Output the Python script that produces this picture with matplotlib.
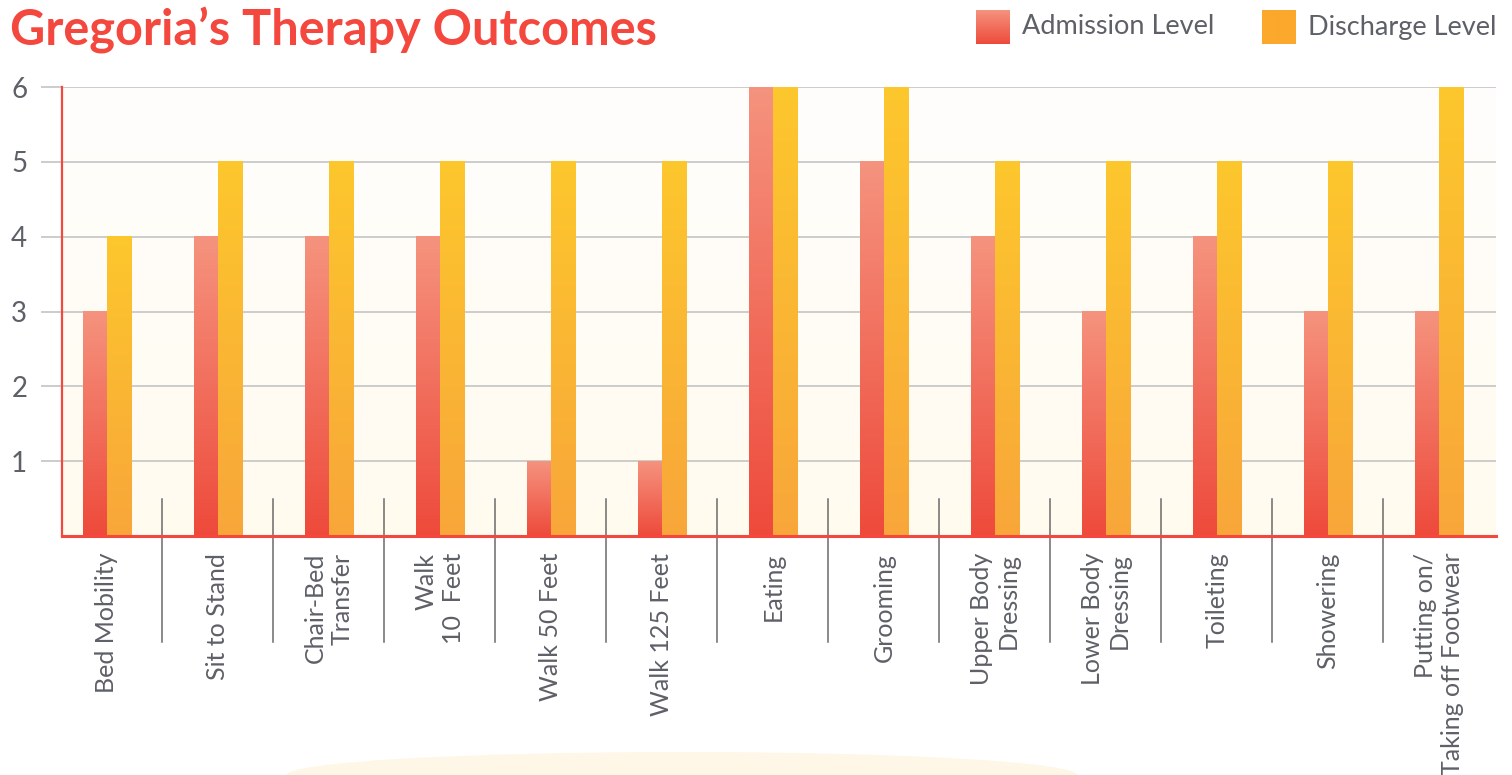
import numpy as np
import matplotlib
matplotlib.use('Agg')
import matplotlib.pyplot as plt
from matplotlib.colors import LinearSegmentedColormap
from matplotlib.patches import Ellipse

# ---- data ----
categories = ["Bed Mobility", "Sit to Stand", "Chair-Bed\nTransfer", "Walk\n10  Feet",
              "Walk 50 Feet", "Walk 125 Feet", "Eating", "Grooming",
              "Upper Body\nDressing", "Lower Body\nDressing", "Toileting", "Showering",
              "Putting on/\nTaking off Footwear"]
admission = [3, 4, 4, 4, 1, 1, 6, 5, 4, 3, 4, 3, 3]
discharge = [4, 5, 5, 5, 5, 5, 6, 6, 5, 5, 5, 5, 6]
yticks = [1, 2, 3, 4, 5, 6]
series_names = ["Admission Level", "Discharge Level"]
title = "Gregoria\u2019s Therapy Outcomes"

plt.rcParams['font.family'] = ['Lato', 'DejaVu Sans']

W, H = 1512, 775
GRAY = '#5E6068'
RED = '#F4483E'
fig = plt.figure(figsize=(W / 100, H / 100), dpi=100)
fig.patch.set_facecolor('white')
ax = fig.add_axes([62 / W, 1 - 536 / H, (1496 - 62) / W, (536 - 87) / H])

grad = np.linspace(0, 1, 256).reshape(-1, 1)

# background gradient
bg = LinearSegmentedColormap.from_list('bg', ['#FFFBEF', '#FFFEFD'])
ax.imshow(grad, extent=[0, 1, 0, 1], transform=ax.transAxes, cmap=bg,
          origin='lower', aspect='auto', zorder=0)

x = np.arange(len(categories))
w = 0.22
bars_a = ax.bar(x - w / 2, admission, w, color='none', zorder=3)
bars_d = ax.bar(x + w / 2, discharge, w, color='none', zorder=3)
cmap_a = LinearSegmentedColormap.from_list('a', ['#EE4A3B', '#F5937E'])
cmap_d = LinearSegmentedColormap.from_list('d', ['#F8A63A', '#FDC72D'])
for bars, cm in ((bars_a, cmap_a), (bars_d, cmap_d)):
    for r in bars:
        x0, y0 = r.get_x(), r.get_y()
        ax.imshow(grad, extent=[x0, x0 + r.get_width(), y0, y0 + r.get_height()],
                  origin='lower', cmap=cm, aspect='auto', zorder=3,
                  interpolation='bilinear')

# separators
for s in x[:-1] + 0.5:
    ax.plot([s, s], [0.5, -1.417], color='#6B6B6B', lw=1.1, clip_on=False, zorder=4)

ax.set_xlim(-0.405, 12.514)
ax.set_ylim(0, 6)
ax.set_yticks(yticks)
ax.yaxis.grid(True, color='#C4C4C4', lw=1.2)
ax.set_axisbelow(True)
ax.tick_params(axis='y', length=15, width=1.2, color='#C4C4C4', pad=10,
               labelsize=20, labelcolor=GRAY)
ax.set_xticks(x)
ax.set_xticklabels(categories, rotation=90, fontsize=18, color=GRAY,
                   multialignment='right')
ax.tick_params(axis='x', length=0, pad=12)

for sp in ('top', 'right'):
    ax.spines[sp].set_visible(False)
ax.spines['left'].set_color(RED)
ax.spines['left'].set_linewidth(1.6)
ax.spines['bottom'].set_color(RED)
ax.spines['bottom'].set_linewidth(2.2)
ax.spines['left'].set_zorder(5)
ax.spines['bottom'].set_zorder(5)

# title
fig.text(10 / W, 1 - 45 / H, title, fontsize=35, fontweight='bold', color='#F4473D',
         ha='left', va='baseline')

# legend (manual)
leg_items = [(976, cmap_a, series_names[0], 1022),
             (1262, LinearSegmentedColormap.from_list('ds', ['#FBA82C', '#FBA92C']), series_names[1], 1308)]
for sx, cm, name, tx in leg_items:
    lax = fig.add_axes([sx / W, 1 - 44 / H, 34 / W, 34 / H])
    lax.imshow(grad, origin='lower', cmap=cm, aspect='auto', extent=[0, 1, 0, 1])
    lax.axis('off')
    fig.text(tx / W, 1 - 27 / H, name, fontsize=19.5, color=GRAY, ha='left', va='center')

# faint decorative glow at bottom
fig.add_artist(Ellipse((682 / W, 0), 790 / W, 46 / H, transform=fig.transFigure,
                       facecolor='#FEF6E6', edgecolor='none', zorder=0))

fig.savefig('out.png', dpi=100)
